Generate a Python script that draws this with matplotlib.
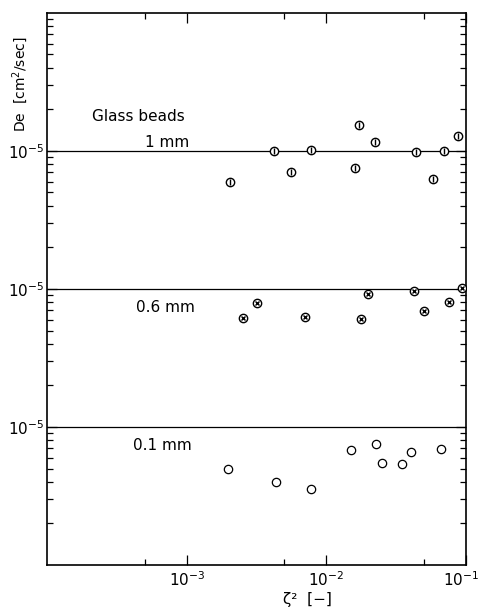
import numpy as np
import matplotlib
matplotlib.use("Agg")
import matplotlib.pyplot as plt
import matplotlib.transforms as mtransforms
from matplotlib.ticker import FixedLocator, NullFormatter

plt.rcParams['font.family'] = ['DejaVu Sans']
plt.rcParams['mathtext.fontset'] = 'dejavusans'

# données (De en cm2/sec, eta2 sans dimension)
eta2_1mm = [2.05e-3, 4.24e-3, 5.61e-3, 7.8e-3, 1.59e-2, 1.72e-2, 2.24e-2, 4.35e-2, 5.75e-2, 7.0e-2, 8.7e-2]
de_1mm = [0.60e-5, 1.00e-5, 0.705e-5, 1.02e-5, 0.75e-5, 1.54e-5, 1.16e-5, 0.98e-5, 0.63e-5, 1.00e-5, 1.28e-5]

eta2_06mm = [2.54e-3, 3.2e-3, 7.07e-3, 1.78e-2, 1.97e-2, 4.27e-2, 4.96e-2, 7.5e-2, 9.29e-2]
de_06mm = [0.616e-5, 0.79e-5, 0.627e-5, 0.606e-5, 0.92e-5, 0.967e-5, 0.693e-5, 0.805e-5, 1.02e-5]

eta2_01mm = [1.98e-3, 4.38e-3, 7.8e-3, 1.49e-2, 2.28e-2, 2.52e-2, 3.45e-2, 4.06e-2, 6.56e-2]
de_01mm = [0.496e-5, 0.399e-5, 0.356e-5, 0.681e-5, 0.753e-5, 0.548e-5, 0.54e-5, 0.659e-5, 0.693e-5]

# chaque série est décalée d'une décade (échelles empilées)
shift_1mm = 100
shift_06mm = 10
shift_01mm = 1

fig = plt.figure(figsize=(4.8, 6.1), dpi=100)
ax = fig.add_axes([0.098, 0.0738, 0.873, 0.905])
ax.set_xscale("log")
ax.set_yscale("log")
ax.set_xlim(1e-4, 1e-1)
ax.set_ylim(1e-6, 1e-2)

ms = 6
# 1 mm : cercle barré verticalement
y1 = np.array(de_1mm) * shift_1mm
ax.plot(eta2_1mm, y1, "o", mfc="white", mec="black", ms=ms, mew=1.0, zorder=3)
ax.plot(eta2_1mm, y1, "|", color="black", ms=ms - 1.5, mew=1.0, zorder=4)
# 0.6 mm : cercle avec croix
y2 = np.array(de_06mm) * shift_06mm
ax.plot(eta2_06mm, y2, "o", mfc="white", mec="black", ms=ms, mew=1.0, zorder=3)
ax.plot(eta2_06mm, y2, "x", color="black", ms=ms - 2.5, mew=1.0, zorder=4)
# 0.1 mm : cercle vide
y3 = np.array(de_01mm) * shift_01mm
ax.plot(eta2_01mm, y3, "o", mfc="white", mec="black", ms=ms, mew=0.9, zorder=3)

# lignes de référence 1e-5
for s in (shift_1mm, shift_06mm, shift_01mm):
    ax.axhline(1e-5 * s, color="black", lw=0.9, zorder=1)

# graduations
ax.xaxis.set_major_locator(FixedLocator([1e-3, 1e-2, 1e-1]))
ax.xaxis.set_minor_locator(FixedLocator([5e-4, 5e-3, 5e-2]))
ax.set_xticklabels(["$10^{-3}$", "$10^{-2}$", "$10^{-1}$"])
ax.xaxis.set_minor_formatter(NullFormatter())

ymajor = [1e-5 * shift_01mm, 1e-5 * shift_06mm, 1e-5 * shift_1mm]
ax.yaxis.set_major_locator(FixedLocator(ymajor))
ax.set_yticklabels(["$10^{-5}$"] * 3)
yminor = [m * 10.0 ** e for e in range(-6, -2) for m in range(2, 10)]
ax.yaxis.set_minor_locator(FixedLocator(yminor))
ax.yaxis.set_minor_formatter(NullFormatter())

ax.tick_params(which="both", direction="in", top=True, right=True, labelsize=11, width=0.9)
ax.tick_params(which="major", length=7)
ax.tick_params(which="minor", length=4)
ax.tick_params(axis="y", pad=2)
for sp in ax.spines.values():
    sp.set_linewidth(1.2)

# le dernier label x est décalé pour rester dans l'image
last = ax.get_xticklabels()[-1]
last.set_horizontalalignment("right")
last.set_transform(last.get_transform() + mtransforms.ScaledTranslation(13 / 100, 0, fig.dpi_scale_trans))

# textes
ax.text(0.107, 0.8116, "Glass beads", transform=ax.transAxes, fontsize=11, va="center")
ax.text(0.234, 0.766, "1 mm", transform=ax.transAxes, fontsize=11, va="center")
ax.text(0.212, 0.467, "0.6 mm", transform=ax.transAxes, fontsize=11, va="center")
ax.text(0.205, 0.217, "0.1 mm", transform=ax.transAxes, fontsize=11, va="center")

fig.text(0.042, 0.862, r"De  [cm$^2$/sec]", rotation=90, ha="center", va="center", fontsize=10)
fig.text(0.64, 0.018, "ζ²  [−]", ha="center", va="center", fontsize=11)

fig.savefig("out.png", dpi=100)
